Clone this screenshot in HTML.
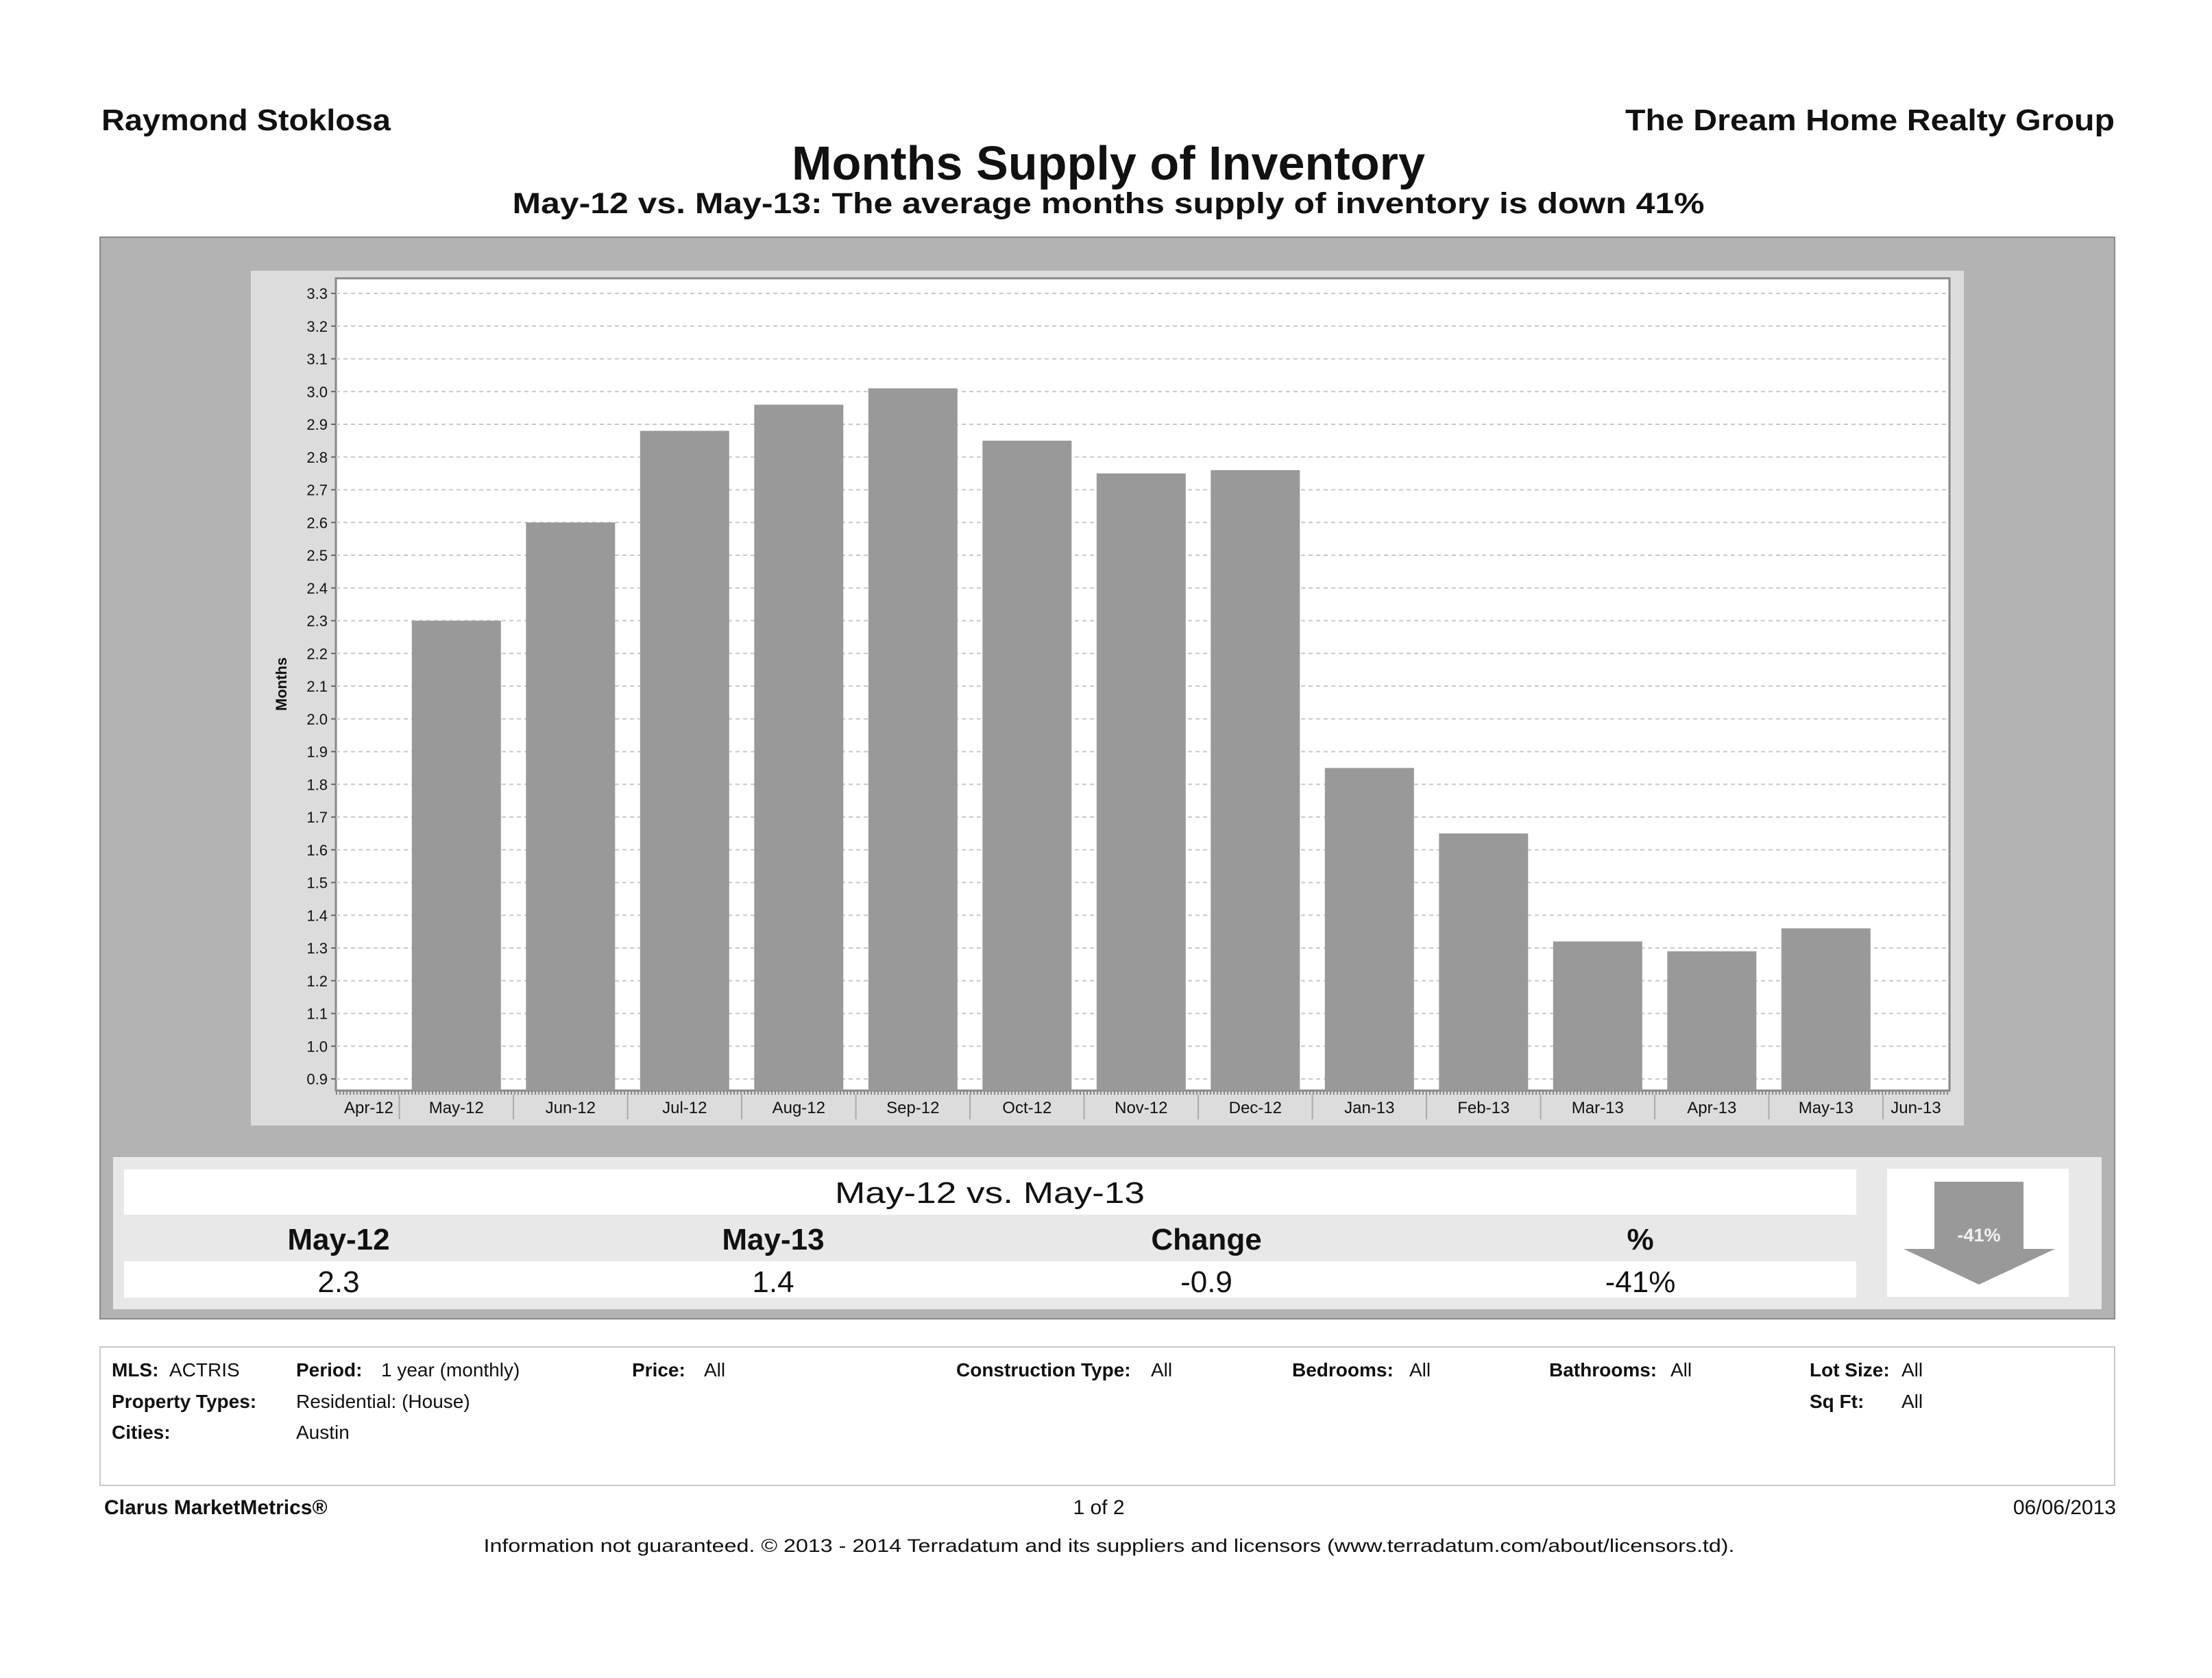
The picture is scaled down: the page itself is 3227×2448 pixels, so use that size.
<!DOCTYPE html>
<html><head><meta charset="utf-8"><style>
html,body{margin:0;padding:0;background:#fff}
svg{display:block}
text{font-family:"Liberation Sans",sans-serif;fill:#111}
</style></head><body>
<svg width="3227" height="2448" viewBox="0 0 3227 2448" xmlns="http://www.w3.org/2000/svg">
<text x="148" y="190" font-size="44" font-weight="bold" textLength="422" lengthAdjust="spacingAndGlyphs">Raymond Stoklosa</text>
<text x="3085" y="190" font-size="44" font-weight="bold" text-anchor="end" textLength="714" lengthAdjust="spacingAndGlyphs">The Dream Home Realty Group</text>
<text x="1617" y="262" font-size="70" font-weight="bold" text-anchor="middle" textLength="924" lengthAdjust="spacingAndGlyphs">Months Supply of Inventory</text>
<text x="1617" y="311" font-size="43" font-weight="bold" text-anchor="middle" textLength="1739" lengthAdjust="spacingAndGlyphs">May-12 vs. May-13:  The average months supply of inventory is down 41%</text>

<rect x="146" y="346" width="2939" height="1578" fill="#b3b3b3" stroke="#8a8a8a" stroke-width="2"/>
<rect x="366" y="395" width="2499" height="1247" fill="#dcdcdc"/>
<rect x="490" y="406" width="2354" height="1185" fill="#fff" stroke="#888" stroke-width="3"/>
<g id="grid"></g>
<g id="bars"></g>
<g id="yaxis"></g>
<g id="xaxis"></g>
<text transform="translate(418,998) rotate(-90)" font-size="22" font-weight="bold" text-anchor="middle">Months</text>

<rect x="165" y="1688" width="2901" height="222" fill="#e8e8e8"/>
<rect x="181" y="1706" width="2527" height="66" fill="#fff"/>
<text x="1444" y="1755" font-size="44" text-anchor="middle" textLength="452" lengthAdjust="spacingAndGlyphs">May-12 vs. May-13</text>
<text x="494" y="1823" font-size="44" font-weight="bold" text-anchor="middle">May-12</text>
<text x="1128" y="1823" font-size="44" font-weight="bold" text-anchor="middle">May-13</text>
<text x="1760" y="1823" font-size="44" font-weight="bold" text-anchor="middle">Change</text>
<text x="2393" y="1823" font-size="44" font-weight="bold" text-anchor="middle">%</text>
<rect x="181" y="1840" width="2527" height="53" fill="#fff"/>
<text x="494" y="1885" font-size="44" text-anchor="middle">2.3</text>
<text x="1128" y="1885" font-size="44" text-anchor="middle">1.4</text>
<text x="1760" y="1885" font-size="44" text-anchor="middle">-0.9</text>
<text x="2393" y="1885" font-size="44" text-anchor="middle">-41%</text>
<rect x="2753" y="1705" width="265" height="187" fill="#fff"/>
<polygon points="2822,1724 2952,1724 2952,1822 2998,1822 2887,1874 2777,1822 2822,1822" fill="#999"/>
<text x="2887" y="1811" font-size="27" font-weight="bold" text-anchor="middle" style="fill:#f2f2f2">-41%</text>

<rect x="146" y="1965" width="2939" height="202" fill="#fff" stroke="#c8c8c8" stroke-width="2"/>
<g font-size="28">
<text x="163" y="2008" font-weight="bold">MLS:</text>
<text x="247" y="2008">ACTRIS</text>
<text x="432" y="2008" font-weight="bold">Period:</text>
<text x="556" y="2008">1 year (monthly)</text>
<text x="922" y="2008" font-weight="bold">Price:</text>
<text x="1027" y="2008">All</text>
<text x="1395" y="2008" font-weight="bold">Construction Type:</text>
<text x="1679" y="2008">All</text>
<text x="1885" y="2008" font-weight="bold">Bedrooms:</text>
<text x="2056" y="2008">All</text>
<text x="2260" y="2008" font-weight="bold">Bathrooms:</text>
<text x="2437" y="2008">All</text>
<text x="2640" y="2008" font-weight="bold">Lot Size:</text>
<text x="2774" y="2008">All</text>
<text x="163" y="2054" font-weight="bold">Property Types:</text>
<text x="432" y="2054">Residential: (House)</text>
<text x="2640" y="2054" font-weight="bold">Sq Ft:</text>
<text x="2774" y="2054">All</text>
<text x="163" y="2099" font-weight="bold">Cities:</text>
<text x="432" y="2099">Austin</text>
</g>
<text x="152" y="2209" font-size="30" font-weight="bold">Clarus MarketMetrics®</text>
<text x="1603" y="2209" font-size="30" text-anchor="middle">1 of 2</text>
<text x="3087" y="2209" font-size="30" text-anchor="end">06/06/2013</text>
<text x="1618" y="2264" font-size="27" text-anchor="middle" textLength="1825" lengthAdjust="spacingAndGlyphs">Information not guaranteed.  © 2013 - 2014 Terradatum and its suppliers and licensors (www.terradatum.com/about/licensors.td).</text>
</svg>
<script>
const categories = ["Apr-12","May-12","Jun-12","Jul-12","Aug-12","Sep-12","Oct-12","Nov-12","Dec-12","Jan-13","Feb-13","Mar-13","Apr-13","May-13","Jun-13"];
const barMonths = ["May-12","Jun-12","Jul-12","Aug-12","Sep-12","Oct-12","Nov-12","Dec-12","Jan-13","Feb-13","Mar-13","Apr-13","May-13"];
const values = [2.30,2.60,2.88,2.96,3.01,2.85,2.75,2.76,1.85,1.65,1.32,1.29,1.36];
const yTicks = [0.9,1.0,1.1,1.2,1.3,1.4,1.5,1.6,1.7,1.8,1.9,2.0,2.1,2.2,2.3,2.4,2.5,2.6,2.7,2.8,2.9,3.0,3.1,3.2,3.3];

const NS = "http://www.w3.org/2000/svg";
const plotL = 490, plotR = 2844, plotB = 1591;
function yScale(v){ return 428 + (3.3 - v) * 477.5; }
function xCenter(i){ return 499.3 + 166.5 * i; }
function mk(tag, attrs, parent){ const e=document.createElementNS(NS,tag); for(const k in attrs) e.setAttribute(k,attrs[k]); parent.appendChild(e); return e; }
const grid=document.getElementById('grid'), bars=document.getElementById('bars'), ya=document.getElementById('yaxis'), xa=document.getElementById('xaxis');

yTicks.forEach(t=>{
  const y=yScale(t);
  const g=mk('line',{x1:plotL,x2:plotR-2,y1:y,y2:y,stroke:'#c8c8c8','stroke-width':2,'stroke-dasharray':'6,5'},grid);
  
  
  const tk=mk('line',{x1:plotL-7,x2:plotL,y1:y,y2:y,stroke:'#666','stroke-width':2},ya);
  
  
  const tx=mk('text',{x:plotL-12,y:y+8,'font-size':22,'text-anchor':'end'},ya);
  tx.textContent=t.toFixed(1);
  
  
});

values.forEach((v,j)=>{
  const i=categories.indexOf(barMonths[j]);
  const cx=xCenter(i), y=yScale(v);
  const r=mk('rect',{x:cx-65,y:y,width:130,height:plotB-y,fill:'#999999'},bars);
  
  
});

mk('line',{x1:plotL,x2:plotR,y1:plotB+3,y2:plotB+3,stroke:'#888','stroke-width':6,'stroke-dasharray':'2,3'},xa);
categories.forEach((c,i)=>{
  const cx=xCenter(i);
  if(i>0){
    const s=mk('line',{x1:cx-83.25,x2:cx-83.25,y1:plotB+6,y2:plotB+42,stroke:'#aaa','stroke-width':2},xa);
    
    
  }
  let lx=cx; if(i===categories.length-1) lx=2795; if(i===0) lx=538;
  const t=mk('text',{x:lx,y:plotB+33,'font-size':24,'text-anchor':'middle'},xa);
  t.textContent=c;
  
  
});
</script>
</body></html>
